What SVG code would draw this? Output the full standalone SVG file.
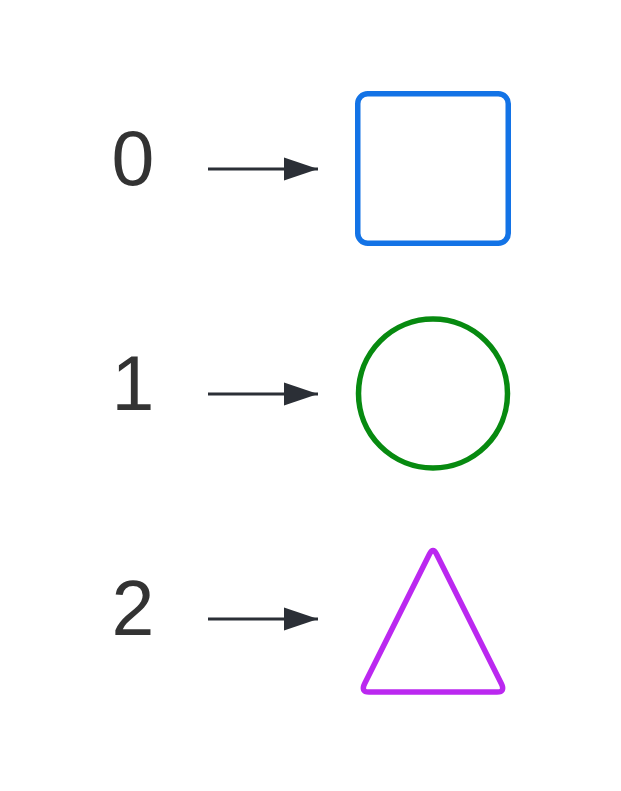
<svg xmlns="http://www.w3.org/2000/svg" width="621" height="791" viewBox="0 0 621 791">
<style>
.lbl{font-family:"Liberation Sans",Arial,sans-serif;font-size:77px;fill:#333333;text-anchor:middle}
.conn{stroke:#2b2f36;stroke-width:3;fill:none}
.shape{fill:none;stroke-width:5.5;stroke-linejoin:round}
</style>
<defs>
<marker id="ah" markerUnits="userSpaceOnUse" markerWidth="36" markerHeight="26" refX="34" refY="13" orient="auto">
<path d="M0,1.5 L34,13 L0,24.5 Z" fill="#2b2f36"/>
</marker>
</defs>
<rect width="621" height="791" fill="#ffffff"/>
<g id="label-0"><text class="lbl" x="133" y="185">0</text></g>
<g id="label-1"><text class="lbl" x="133" y="410">1</text></g>
<g id="label-2"><text class="lbl" x="133" y="635">2</text></g>
<g id="connectors">
<line class="conn" x1="208" y1="169" x2="318" y2="169" marker-end="url(#ah)"/>
<line class="conn" x1="208" y1="394" x2="318" y2="394" marker-end="url(#ah)"/>
<line class="conn" x1="208" y1="619" x2="318" y2="619" marker-end="url(#ah)"/>
</g>
<g id="square"><rect class="shape" x="357.75" y="93.75" width="150.5" height="149.5" rx="10" stroke="#1373e6"/></g>
<g id="circle"><circle class="shape" cx="433" cy="393.5" r="74.5" stroke="#078a10"/></g>
<g id="triangle"><path class="shape" d="M429.4,554.2 Q433,547 436.6,554.2 L501.4,683.8 Q505.5,692 497,692 L369,692 Q360.5,692 364.6,683.8 Z" stroke="#bb28f0"/></g>
</svg>
